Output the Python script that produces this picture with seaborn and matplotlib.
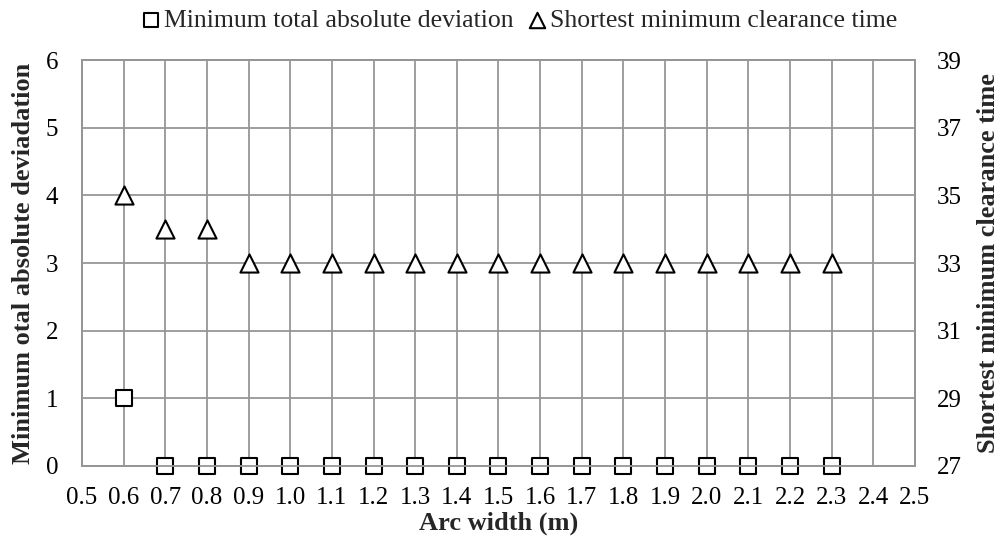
import matplotlib
matplotlib.use("Agg")
import matplotlib.pyplot as plt
import seaborn as sns
import pandas as pd

arc_width = [0.6, 0.7, 0.8, 0.9, 1.0, 1.1, 1.2, 1.3, 1.4, 1.5, 1.6, 1.7, 1.8, 1.9, 2.0, 2.1, 2.2, 2.3]
min_total_abs_dev = [1, 0, 0, 0, 0, 0, 0, 0, 0, 0, 0, 0, 0, 0, 0, 0, 0, 0]
shortest_clear_time = [35, 34, 34, 33, 33, 33, 33, 33, 33, 33, 33, 33, 33, 33, 33, 33, 33, 33]
x_ticks = [round(0.5 + 0.1 * i, 1) for i in range(21)]
left_ticks = [0, 1, 2, 3, 4, 5, 6]
right_ticks = [27, 29, 31, 33, 35, 37, 39]

df = pd.DataFrame({"x": arc_width, "dev": min_total_abs_dev, "time": shortest_clear_time})

sns.set_theme(style="white")
plt.rcParams['font.family'] = ['Liberation Serif', 'DejaVu Serif']

fig, ax = plt.subplots(figsize=(10.05, 5.36), dpi=100)
fig.subplots_adjust(left=0.0816, right=0.9104, top=0.888, bottom=0.1306)
ax2 = ax.twinx()

grid_c = "#969696"
sns.scatterplot(data=df, x="x", y="dev", ax=ax, marker="s", s=145, facecolor="white",
                edgecolor="black", linewidth=1.5, zorder=5, clip_on=False,
                label="Minimum total absolute deviation", legend=False)
sns.scatterplot(data=df, x="x", y="time", ax=ax2, marker="^", s=170, facecolor="white",
                edgecolor="black", linewidth=1.5, zorder=5, clip_on=False,
                label="Shortest minimum clearance time", legend=False)

ax.set_xlim(0.5, 2.5)
ax.set_ylim(0, 6)
ax2.set_ylim(27, 39)
ax.set_xticks(x_ticks)
ax.set_xticklabels([f"{v:.1f}" for v in x_ticks])
ax.set_yticks(left_ticks)
ax2.set_yticks(right_ticks)
ax.grid(True, color=grid_c, linewidth=1.3)
ax.set_axisbelow(True)
for a in (ax, ax2):
    for sp in a.spines.values():
        sp.set_color(grid_c)
        sp.set_linewidth(1.3)
    a.tick_params(length=0, labelsize=18, colors="black")
ax.tick_params(axis="x", pad=15)
ax.tick_params(axis="y", pad=17)
ax2.tick_params(axis="y", pad=16)
ax2.grid(False)

ax.set_xlabel("Arc width (m)", fontsize=19, fontweight="bold", labelpad=2)
ax.set_ylabel("Minimum otal absolute deviadation", fontsize=19, fontweight="bold", labelpad=8)
ax2.set_ylabel("Shortest minimum clearance time", fontsize=19, fontweight="bold", labelpad=11)

h1, l1 = ax.get_legend_handles_labels()
h2, l2 = ax2.get_legend_handles_labels()
leg = fig.legend(h1 + h2, l1 + l2, loc="center", bbox_to_anchor=(0.515, 0.962), ncol=2,
                 frameon=False, fontsize=18.5, handletextpad=0.0, columnspacing=0.4,
                 markerscale=0.85, handlelength=1.0)

fig.savefig("out.png", dpi=100)
